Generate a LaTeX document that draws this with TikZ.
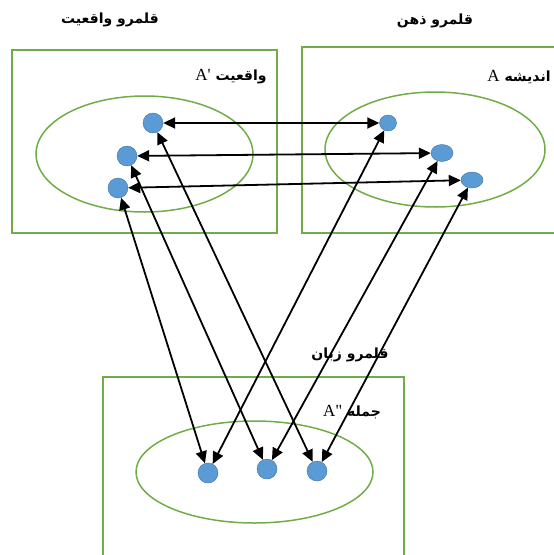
\documentclass[tikz,border=0pt]{standalone}
\usepackage{fontspec}
\newfontfamily\latinfont{Liberation Serif}
\newfontfamily\arabicfont[Script=Arabic]{DejaVu Sans}
\TeXXeTstate=1
\usepackage{tikz}
\usetikzlibrary{arrows.meta,shapes.geometric}

\definecolor{boxgreen}{HTML}{70AD47}
\definecolor{dotblue}{HTML}{5B9BD5}
\definecolor{dotrim}{HTML}{41719C}

\newcommand{\lat}[1]{\beginL{\latinfont\mdseries\fontsize{17}{19}\selectfont #1}\endL}

\begin{document}
\begin{tikzpicture}[x=1pt, y=-1pt,
    region/.style={draw=boxgreen, line width=1.5pt},
    dot/.style={ellipse, draw=dotrim, fill=dotblue, inner sep=0pt, minimum width=20pt, minimum height=20pt},
    link/.style={{Triangle[length=12pt,width=11pt]}-{Triangle[length=12pt,width=11pt]}, line width=1.8pt},
    label/.style={font=\fontsize{14}{17}\selectfont\arabicfont\bfseries, inner sep=0pt}]
    \useasboundingbox (0,0) rectangle (554,555);
    % regions
    \draw[region] (12,50) rectangle (277,233);
    \draw[region] (302,47) rectangle (570,233);
    \draw[region] (103,377) rectangle (404,570);
    \draw[region] (144.5,154) ellipse (108.5 and 58);
    \draw[region] (435,149.5) ellipse (110 and 57.5);
    \draw[region] (254.5,472) ellipse (118.5 and 51);
    % titles
    \node[label] (t1) at (110,20) {\beginR قلمرو واقعیت\endR};
    \node[label] (t2) at (435,21) {\beginR قلمرو ذهن\endR};
    \node[label] (t3) at (350,355) {\beginR قلمرو زبان\endR};
    \node[label] (n1) at (231,77) {\beginR واقعیت \lat{A'}\endR};
    \node[label] (n2) at (519,77) {\beginR اندیشه \lat{A}\endR};
    \node[label] (n3) at (352,412) {\beginR جمله \lat{A"}\endR};
    % dots
    \node[dot] (l1) at (153,123) {};
    \node[dot] (l2) at (127,156) {};
    \node[dot] (l3) at (118,188) {};
    \node[dot, minimum width=17pt, minimum height=16pt] (r1) at (388,123) {};
    \node[dot, minimum width=22pt, minimum height=17pt] (r2) at (442,153) {};
    \node[dot, minimum width=22pt, minimum height=16pt] (r3) at (472,180) {};
    \node[dot] (b1) at (208,473) {};
    \node[dot] (b2) at (267,469) {};
    \node[dot] (b3) at (317,471) {};
    % links
    \draw[link] (l1) -- (r1);
    \draw[link] (l2) -- (r2);
    \draw[link] (l3) -- (r3);
    \draw[link] (l1) -- (b3);
    \draw[link] (l2) -- (b2);
    \draw[link] (l3) -- (b1);
    \draw[link] (r1) -- (b1);
    \draw[link] (r2) -- (b2);
    \draw[link] (r3) -- (b3);
\end{tikzpicture}
\end{document}
